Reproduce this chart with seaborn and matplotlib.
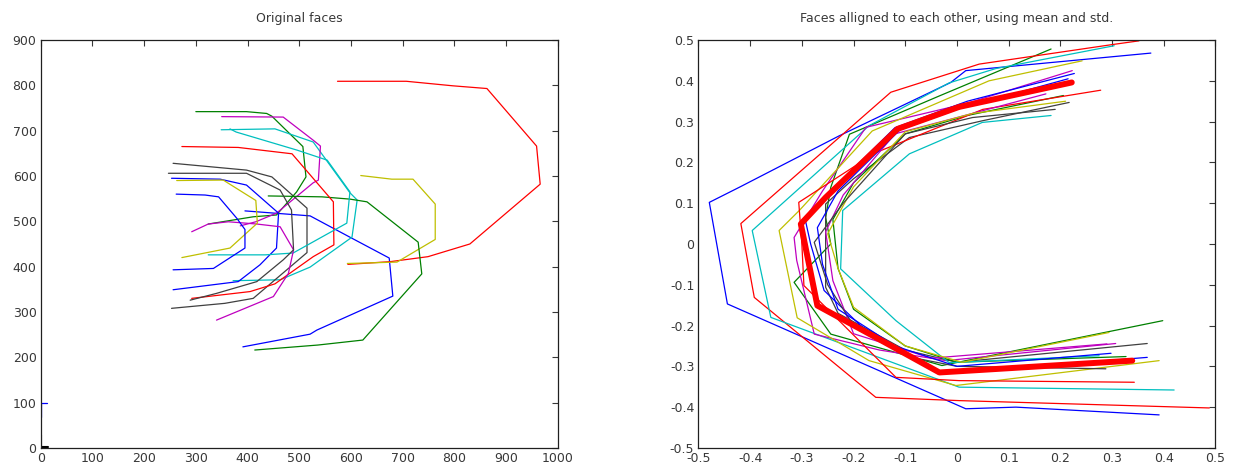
import matplotlib
matplotlib.use("Agg")
import matplotlib.pyplot as plt
from matplotlib.ticker import FuncFormatter
import seaborn as sns

# matlab style line colours, used in order b g r c m y k
col_b = (0.0, 0.0, 1.0)
col_g = (0.0, 0.5, 0.0)
col_r = (1.0, 0.0, 0.0)
col_c = (0.0, 0.75, 0.75)
col_m = (0.75, 0.0, 0.75)
col_y = (0.75, 0.75, 0.0)
col_k = (0.25, 0.25, 0.25)
text_col = '#383838'

# ---- original faces (pixel coordinates) ----
orig_01_x = [395, 521, 598, 674, 681, 534, 521, 391]
orig_01_y = [523, 512, 465, 419, 335, 260, 251, 223]
orig_02_x = [300, 398, 437, 447, 507, 513, 495, 456, 411, 324]
orig_02_y = [742, 742, 738, 732, 665, 598, 565, 514, 510, 494]
orig_03_x = [574, 707, 797, 863, 959, 966, 830, 749, 676, 594]
orig_03_y = [809, 809, 799, 793, 666, 582, 450, 422, 411, 405]
orig_04_x = [349, 453, 527, 598, 612, 602, 521, 463, 372]
orig_04_y = [702, 704, 675, 563, 547, 465, 399, 371, 369]
orig_05_x = [350, 469, 527, 541, 537, 527, 456, 416, 386]
orig_05_y = [731, 730, 679, 666, 591, 585, 518, 499, 490]
orig_06_x = [619, 679, 720, 763, 763, 689, 593]
orig_06_y = [601, 593, 593, 538, 460, 410, 407]
orig_07_x = [256, 398, 447, 515, 515, 479, 411, 356, 253]
orig_07_y = [628, 613, 598, 529, 431, 396, 330, 319, 308]
orig_08_x = [253, 347, 398, 460, 456, 424, 382, 256]
orig_08_y = [595, 593, 580, 518, 441, 404, 367, 349]
orig_09_x = [440, 544, 598, 631, 730, 737, 623, 536, 414]
orig_09_y = [556, 554, 549, 543, 454, 384, 238, 227, 216]
orig_10_x = [273, 382, 486, 566, 567, 527, 453, 405, 292]
orig_10_y = [665, 663, 649, 543, 448, 422, 362, 345, 330]
orig_11_x = [366, 378, 496, 554, 598, 592, 488, 434, 324]
orig_11_y = [704, 697, 657, 635, 565, 496, 430, 426, 426]
orig_12_x = [292, 324, 363, 418, 463, 489, 479, 450, 340]
orig_12_y = [477, 494, 499, 494, 488, 437, 385, 334, 282]
orig_13_x = [263, 353, 416, 419, 366, 273]
orig_13_y = [590, 591, 546, 496, 441, 420]
orig_14_x = [247, 398, 463, 485, 489, 469, 418, 340, 289]
orig_14_y = [606, 606, 569, 525, 437, 415, 367, 341, 326]
orig_15_x = [262, 318, 344, 379, 395, 395, 334, 256]
orig_15_y = [560, 558, 554, 507, 482, 441, 396, 393]
# tiny shapes near the origin
orig_small_b_x = [13, 0, 0]
orig_small_b_y = [100, 100, 69]
orig_small_k_x = [0, 0, 15]
orig_small_k_y = [28, 3, 3]

# ---- aligned faces ----
alig_01_x = [0.375, 0.017, -0.012, -0.228, -0.421, -0.479, -0.444, 0.017, 0.114, 0.391]
alig_01_y = [0.468, 0.425, 0.396, 0.265, 0.139, 0.102, -0.147, -0.404, -0.400, -0.419]
alig_02_x = [0.182, -0.034, -0.208, -0.244, -0.254, -0.244, -0.315, -0.244, -0.029, 0.398]
alig_02_y = [0.478, 0.363, 0.269, 0.139, 0.065, 0.0, -0.094, -0.221, -0.298, -0.188]
alig_03_x = [0.352, 0.301, 0.043, -0.128, -0.418, -0.392, -0.157, 0.004, 0.488]
alig_03_y = [0.498, 0.489, 0.441, 0.372, 0.050, -0.131, -0.376, -0.384, -0.402]
alig_04_x = [0.304, 0.075, -0.015, -0.170, -0.396, -0.360, 0.004, 0.420]
alig_04_y = [0.486, 0.430, 0.395, 0.290, 0.033, -0.180, -0.351, -0.358]
alig_05_x = [0.223, 0.02, -0.176, -0.26, -0.315, -0.31, -0.276, -0.15, -0.021, 0.307]
alig_05_y = [0.425, 0.345, 0.286, 0.13, 0.016, -0.04, -0.221, -0.26, -0.286, -0.244]
alig_06_x = [0.242, 0.062, -0.164, -0.305, -0.344, -0.309, -0.170, -0.002, 0.391]
alig_06_y = [0.449, 0.400, 0.277, 0.082, 0.033, -0.181, -0.286, -0.347, -0.286]
alig_07_x = [0.217, 0.049, -0.092, -0.2, -0.254, -0.254, -0.23, -0.1, 0.0, 0.368]
alig_07_y = [0.347, 0.302, 0.261, 0.16, 0.098, -0.106, -0.17, -0.26, -0.29, -0.244]
alig_08_x = [0.227, 0.02, -0.12, -0.22, -0.293, -0.283, -0.257, -0.17, -0.034, 0.368]
alig_08_y = [0.418, 0.35, 0.285, 0.16, 0.057, 0.0, -0.114, -0.22, -0.319, -0.278]
alig_09_x = [0.206, 0.02, -0.1, -0.2, -0.24, -0.23, -0.2, -0.1, 0.0, 0.327]
alig_09_y = [0.364, 0.315, 0.27, 0.15, 0.06, -0.06, -0.16, -0.25, -0.29, -0.276]
alig_10_x = [0.278, 0.05, -0.157, -0.306, -0.30, -0.296, -0.118, 0.004, 0.343]
alig_10_y = [0.377, 0.33, 0.224, 0.102, 0.0, -0.102, -0.327, -0.335, -0.339]
alig_11_x = [0.182, 0.049, -0.092, -0.221, -0.225, -0.118, -0.015, 0.275]
alig_11_y = [0.315, 0.298, 0.221, 0.082, -0.061, -0.188, -0.291, -0.274]
alig_12_x = [0.172, 0.0, -0.12, -0.22, -0.254, -0.24, -0.2, -0.05, 0.29]
alig_12_y = [0.368, 0.31, 0.27, 0.12, 0.03, -0.09, -0.22, -0.28, -0.245]
alig_13_x = [0.21, 0.03, -0.1, -0.2, -0.25, -0.23, -0.2, -0.1, 0.01, 0.294]
alig_13_y = [0.35, 0.32, 0.275, 0.14, 0.025, -0.06, -0.155, -0.25, -0.29, -0.217]
alig_14_x = [0.19, 0.03, -0.1, -0.22, -0.276, -0.25, -0.2, -0.08, 0.0, 0.288]
alig_14_y = [0.33, 0.31, 0.27, 0.1, 0.004, -0.1, -0.2, -0.28, -0.30, -0.306]
alig_15_x = [0.215, 0.0, -0.11, -0.23, -0.27, -0.26, -0.23, -0.12, 0.0, 0.298]
alig_15_y = [0.405, 0.33, 0.28, 0.13, 0.04, -0.05, -0.16, -0.25, -0.30, -0.268]
# mean face
mean_x = [0.222, 0.004, -0.115, -0.254, -0.302, -0.270, -0.157, -0.034, 0.339]
mean_y = [0.396, 0.336, 0.282, 0.114, 0.049, -0.151, -0.229, -0.315, -0.286]

cycle = [col_b, col_g, col_r, col_c, col_m, col_y, col_k]

orig_faces = [
    (orig_01_x, orig_01_y), (orig_02_x, orig_02_y), (orig_03_x, orig_03_y),
    (orig_04_x, orig_04_y), (orig_05_x, orig_05_y), (orig_06_x, orig_06_y),
    (orig_07_x, orig_07_y), (orig_08_x, orig_08_y), (orig_09_x, orig_09_y),
    (orig_10_x, orig_10_y), (orig_11_x, orig_11_y), (orig_12_x, orig_12_y),
    (orig_13_x, orig_13_y), (orig_14_x, orig_14_y), (orig_15_x, orig_15_y),
]
alig_faces = [
    (alig_01_x, alig_01_y), (alig_02_x, alig_02_y), (alig_03_x, alig_03_y),
    (alig_04_x, alig_04_y), (alig_05_x, alig_05_y), (alig_06_x, alig_06_y),
    (alig_07_x, alig_07_y), (alig_08_x, alig_08_y), (alig_09_x, alig_09_y),
    (alig_10_x, alig_10_y), (alig_11_x, alig_11_y), (alig_12_x, alig_12_y),
    (alig_13_x, alig_13_y), (alig_14_x, alig_14_y), (alig_15_x, alig_15_y),
]

sns.set_style("white")
plt.rcParams['font.family'] = ['DejaVu Sans']

fig = plt.figure(figsize=(12.34, 4.71), dpi=100)
ax1 = fig.add_axes([0.033, 0.049, 0.419, 0.866])
ax2 = fig.add_axes([0.566, 0.049, 0.419, 0.866])


def draw(ax, xs, ys, color, lw=0.9):
    sns.lineplot(x=xs, y=ys, sort=False, estimator=None, color=color,
                 linewidth=lw, ax=ax, legend=False)


for i, (xs, ys) in enumerate(orig_faces):
    draw(ax1, xs, ys, cycle[i % 7])
draw(ax1, orig_small_b_x, orig_small_b_y, col_b)
draw(ax1, orig_small_k_x, orig_small_k_y, (0, 0, 0), lw=1.5)

for i, (xs, ys) in enumerate(alig_faces):
    draw(ax2, xs, ys, cycle[i % 7])
draw(ax2, mean_x, mean_y, col_r, lw=4.3)

ax1.set_xlim(0, 1000)
ax1.set_ylim(0, 900)
ax1.set_xticks(range(0, 1001, 100))
ax1.set_yticks(range(0, 901, 100))
ax1.set_title("Original faces", fontsize=9, pad=13, color=text_col)

ax2.set_xlim(-0.5, 0.5)
ax2.set_ylim(-0.5, 0.5)
ticks = [-0.5, -0.4, -0.3, -0.2, -0.1, 0, 0.1, 0.2, 0.3, 0.4, 0.5]
ax2.set_xticks(ticks)
ax2.set_yticks(ticks)
ax2.xaxis.set_major_formatter(FuncFormatter(lambda v, p: "%g" % round(v, 2)))
ax2.yaxis.set_major_formatter(FuncFormatter(lambda v, p: "%g" % round(v, 2)))
ax2.set_title("Faces alligned to each other, using mean and std.", fontsize=9,
              pad=13, color=text_col)

for ax in (ax1, ax2):
    ax.set_xlabel("")
    ax.set_ylabel("")
    ax.tick_params(direction='in', top=True, right=True, length=4,
                   width=0.8, labelsize=9, pad=3, colors=text_col)
    for s in ax.spines.values():
        s.set_color('#202020')
        s.set_linewidth(0.9)

fig.savefig("out.png", dpi=100)
